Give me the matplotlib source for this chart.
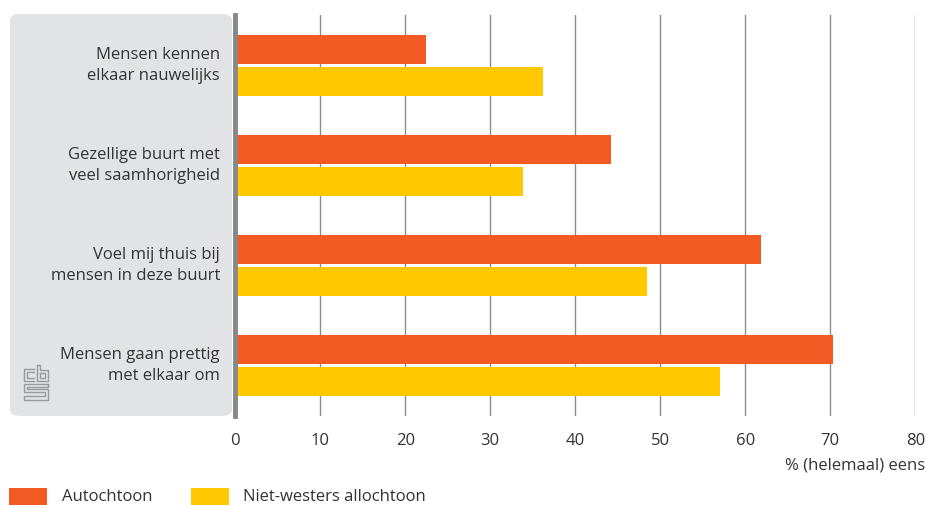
import matplotlib
matplotlib.use("Agg")
import matplotlib.pyplot as plt
from matplotlib.patches import FancyBboxPatch, Rectangle
import numpy as np

plt.rcParams['font.family'] = ['Open Sans', 'DejaVu Sans']

categories = ["Mensen kennen\nelkaar nauwelijks",
              "Gezellige buurt met\nveel saamhorigheid",
              "Voel mij thuis bij\nmensen in deze buurt",
              "Mensen gaan prettig\nmet elkaar om"]
series_names = ["Autochtoon", "Niet-westers allochtoon"]
autochtoon = [22.4, 44.2, 61.8, 70.3]
niet_westers = [36.2, 33.8, 48.4, 57.0]
xticks = [0, 10, 20, 30, 40, 50, 60, 70, 80]
xlabel = "% (helemaal) eens"

colors = ["#f15a22", "#ffc800"]
text_color = "#333333"
grid_color = "#8c8c8c"
FS = 12

W, H = 926, 505
fig = plt.figure(figsize=(W / 100, H / 100), dpi=100)

def fx(px):
    return px / W

def fy(py):
    return 1 - py / H

# grey label panel
panel = FancyBboxPatch((fx(10), fy(416)), fx(232) - fx(10), fy(14) - fy(416),
                       boxstyle="round,pad=0,rounding_size=0.012",
                       transform=fig.transFigure, facecolor="#e2e3e5",
                       edgecolor="none", zorder=-5)
fig.patches.append(panel)

ax_left, ax_right = 235.3, 915.3
ax_top, ax_bot = 15, 416
ax = fig.add_axes([fx(ax_left), fy(ax_bot), fx(ax_right) - fx(ax_left), fy(ax_top) - fy(ax_bot)])
ax.set_facecolor("none")

n = len(categories)
y = np.arange(n) + 0.5
h = 0.29
off = 0.16
ax.barh(y - off, autochtoon, height=h, color=colors[0], zorder=3)
ax.barh(y + off, niet_westers, height=h, color=colors[1], zorder=3)

ax.set_xlim(0, 80)
ax.set_ylim(n, 0)
ax.set_xticks(xticks)
ax.set_xticklabels([str(t) for t in xticks], fontsize=FS, color=text_color)
ax.tick_params(axis='x', length=0, pad=12)
ax.set_yticks([])
for t in xticks[1:]:
    ax.axvline(t, color=grid_color, lw=1.0, zorder=1)
for s in ["top", "right", "bottom"]:
    ax.spines[s].set_visible(False)
ax.spines["left"].set_color("#888888")
ax.spines["left"].set_linewidth(3.5)
ax.spines["left"].set_zorder(4)

for yi, cat in zip(y, categories):
    ax.text(-0.0225, yi, cat, transform=ax.get_yaxis_transform(), ha="right", va="center",
            fontsize=FS, color=text_color, linespacing=1.4, zorder=5)

fig.text(fx(925), fy(466), xlabel, ha="right", va="center", fontsize=FS, color=text_color)

# legend
leg_x = [9, 191]
txt_x = [62, 243]
for c, name, lx, tx in zip(colors, series_names, leg_x, txt_x):
    fig.patches.append(Rectangle((fx(lx), fy(506)), fx(38), fy(488) - fy(506),
                                 transform=fig.transFigure, facecolor=c, edgecolor="none"))
    fig.text(fx(tx), fy(497), name, ha="left", va="center", fontsize=FS, color=text_color)

# cbs logo (simple line drawing)
lc = "#9a9a9a"
lw = 1.0
def L(pts):
    xs = [fx(p[0]) for p in pts]
    ys = [fy(p[1]) for p in pts]
    fig.add_artist(plt.Line2D(xs, ys, transform=fig.transFigure, color=lc, lw=lw))
# c
L([(34, 369), (24, 369), (24, 381), (34, 381)])
L([(34, 372), (27, 372), (27, 378), (34, 378)])
# b
L([(37, 365), (37, 381), (48, 381), (48, 370), (40, 370), (40, 365), (37, 365)])
L([(40, 373), (45, 373), (45, 378), (40, 378), (40, 373)])
# s
L([(48, 384), (24, 384), (24, 392), (45, 392), (45, 396), (24, 396), (24, 400), (48, 400),
   (48, 389), (27, 389), (27, 387), (48, 387), (48, 384)])

fig.savefig("out.png", dpi=100)
